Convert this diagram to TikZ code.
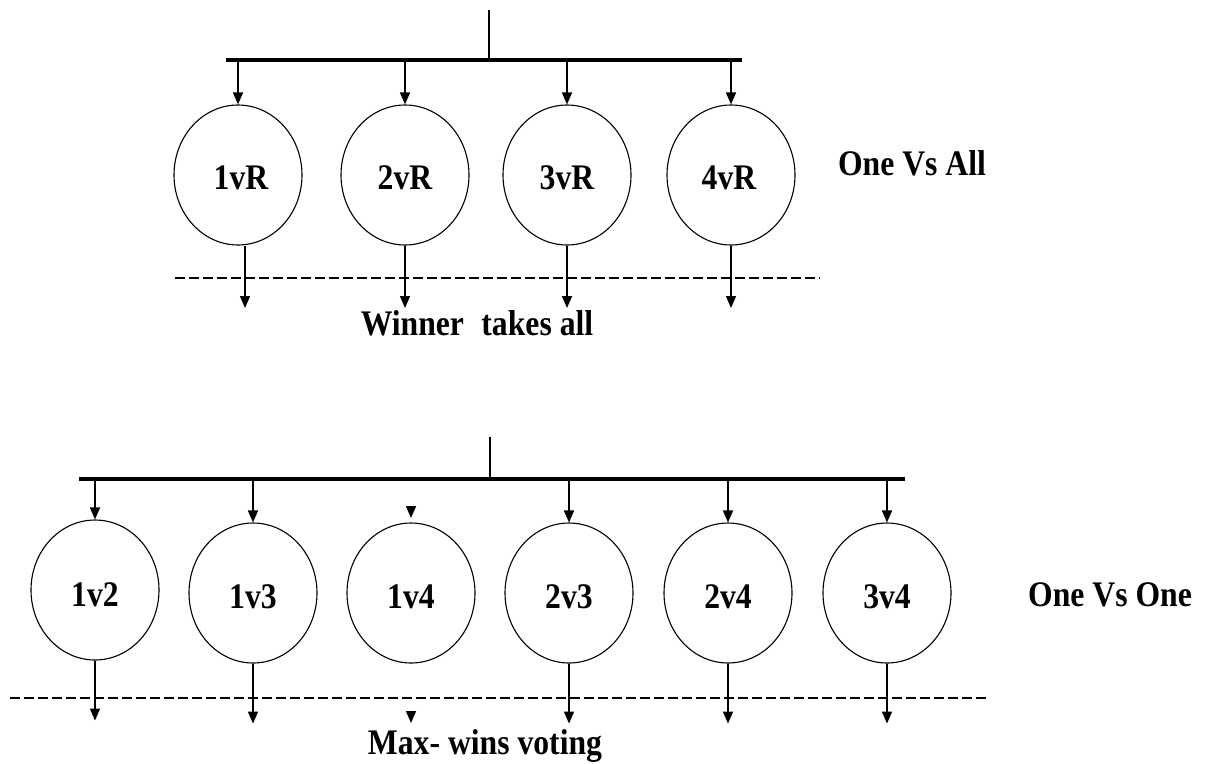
\documentclass[tikz,border=0pt]{standalone}
\usepackage{fontspec}
\setmainfont{Liberation Serif}
\usetikzlibrary{arrows.meta,shapes.geometric,calc}
\tikzset{
  clf/.style={ellipse, draw, line width=1.1pt, inner sep=0pt, minimum width=128pt, minimum height=140pt},
  arr/.style={line width=1.5pt, -{Triangle[length=12pt,width=10pt]}},
  busline/.style={line width=3.2pt},
  dashline/.style={line width=2.4pt, dash pattern=on 10pt off 4pt},
  lbl/.style={inner sep=0pt, font=\fontsize{36}{42}\selectfont\bfseries},
}
\newcommand{\cx}[1]{\scalebox{0.88}[1]{#1}}
\begin{document}
\begin{tikzpicture}[x=1pt,y=-1pt]
\useasboundingbox (0,0) rectangle (1214,763);
% ---------- One vs All ----------
\coordinate (topin) at (489,10);
\coordinate (topbusL) at (226,60);
\coordinate (topbusR) at (742,60);
\coordinate (topbusM) at (489,60);
\draw[line width=1.6pt] (topin) -- (topbusM);
\draw[busline] (topbusL) -- (topbusR);

\node[clf] (a1) at (238,175) {};
\node[clf] (a2) at (405,175) {};
\node[clf] (a3) at (567,175) {};
\node[clf] (a4) at (731,175) {};
\node[lbl] at (241,178) {\cx{1vR}};
\node[lbl] at (405,178) {\cx{2vR}};
\node[lbl] at (567,178) {\cx{3vR}};
\node[lbl] at (729,178) {\cx{4vR}};

\foreach \i in {1,2,3,4} {
  \draw[arr] (a\i.north |- topbusM) -- (a\i.north);
}
\coordinate (ao1) at (245,308);
\coordinate (ao2) at (405,308);
\coordinate (ao3) at (567,308);
\coordinate (ao4) at (730,308);
\draw[arr] (a1.south -| ao1) -- (ao1);
\foreach \i in {2,3,4} {
  \draw[arr] (a\i.south) -- (a\i.south |- ao\i);
}
\coordinate (tdL) at (175,278);
\coordinate (tdR) at (820,278);
\draw[dashline] (tdL) -- (tdR);
\node[lbl] (wta) at (477,323) {\cx{Winner\hspace{0.3em} takes all}};
\node[lbl] (ova) at (912,163) {\cx{One Vs All}};

% ---------- One vs One ----------
\coordinate (botin) at (490,437);
\coordinate (botbusM) at (490,479);
\coordinate (botbusL) at (79,479);
\coordinate (botbusR) at (905,479);
\draw[line width=1.6pt] (botin) -- (botbusM);
\draw[busline] (botbusL) -- (botbusR);

\node[clf] (b1) at (95,590) {};
\node[clf] (b2) at (253,593) {};
\node[clf] (b3) at (411,593) {};
\node[clf] (b4) at (569,593) {};
\node[clf] (b5) at (728,593) {};
\node[clf] (b6) at (887,593) {};
\node[lbl] at (95,595) {\cx{1v2}};
\node[lbl] at (253,597) {\cx{1v3}};
\node[lbl] at (411,597) {\cx{1v4}};
\node[lbl] at (569,597) {\cx{2v3}};
\node[lbl] at (728,597) {\cx{2v4}};
\node[lbl] at (887,597) {\cx{3v4}};

\foreach \i in {1,2,4,5,6} {
  \draw[arr] (b\i.north |- botbusM) -- (b\i.north);
}
% lone arrowhead above 1v4
\coordinate (h1a) at (411,508);
\coordinate (h1b) at (411,518);
\draw[arr] (h1a) -- (h1b);

\foreach \i in {1,2,4,5,6} {
  \draw[arr] (b\i.south) -- ++(0,60);
}
% lone arrowhead below 1v4
\coordinate (h2a) at (411,712);
\coordinate (h2b) at (411,723);
\draw[arr] (h2a) -- (h2b);

\coordinate (bdL) at (10,698);
\coordinate (bdR) at (988,698);
\draw[dashline] (bdL) -- (bdR);
\node[lbl] (mwv) at (485,746) {\cx{Max- wins voting}};
\node[lbl] (ovo) at (1110,595) {\cx{One Vs One}};
\end{tikzpicture}
\end{document}
